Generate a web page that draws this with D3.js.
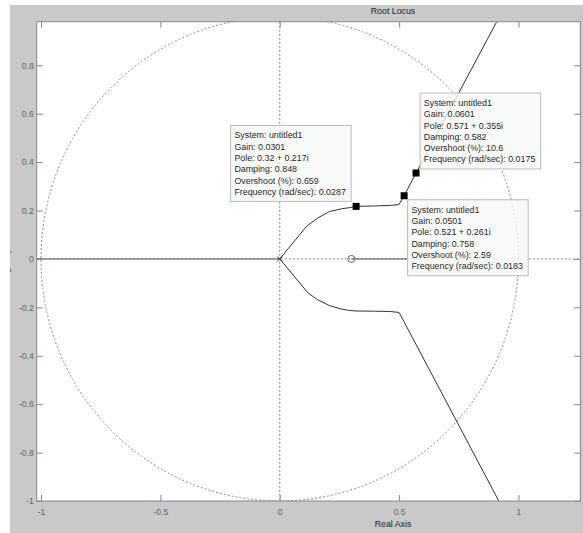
<!DOCTYPE html>
<html>
<head>
<meta charset="utf-8">
<script src="https://cdn.jsdelivr.net/npm/d3@7"></script>
<style>
  body { margin: 0; background: #fff; }
  text { font-family: "Liberation Sans", Arial, sans-serif; }
</style>
</head>
<body>
<script>
// tick values
var xTicks = [-1, -0.5, 0, 0.5, 1];
var yTicks = [-1, -0.8, -0.6, -0.4, -0.2, 0, 0.2, 0.4, 0.6, 0.8];

// root locus branches (real, imag)
var upperRe = [0, 0.04, 0.08, 0.114, 0.159, 0.209, 0.258, 0.293, 0.32, 0.4, 0.461, 0.499, 0.521, 0.571, 0.909];
var upperIm = [0, 0.048, 0.096, 0.136, 0.169, 0.196, 0.207, 0.212, 0.217, 0.219, 0.221, 0.224, 0.261, 0.355, 0.98];
var lowerRe = [0, 0.04, 0.08, 0.119, 0.159, 0.209, 0.258, 0.293, 0.32, 0.4, 0.461, 0.5, 0.923];
var lowerIm = [0, -0.047, -0.095, -0.141, -0.169, -0.193, -0.207, -0.213, -0.215, -0.216, -0.217, -0.221, -1.01];

// real-axis locus segments
var realSegLeft = [-1.02, 0];
var realSegRight = [0.3, 0.536];

// poles / zeros
var poleRe = [0];
var zeroRe = [0.3];

// data tips
var tipGain = ["0.0301", "0.0601", "0.0501"];
var tipRe = [0.32, 0.571, 0.521];
var tipIm = [0.217, 0.355, 0.261];
var tipDamping = ["0.848", "0.582", "0.758"];
var tipOvershoot = ["0.659", "10.6", "2.59"];
var tipFreq = ["0.0287", "0.0175", "0.0183"];

var W = 583, H = 533;
var box = {left: 36.7, top: 21.7, right: 580.3, bottom: 501};

var xScale = d3.scaleLinear().domain([-1.018, 1.259]).range([box.left, box.right]);
var yScale = d3.scaleLinear().domain([-1.0, 0.98]).range([box.bottom, box.top]);

var svg = d3.select("body").append("svg")
    .attr("width", W)
    .attr("height", H);

// figure background
svg.append("rect")
    .attr("x", 10).attr("y", 5)
    .attr("width", W - 10).attr("height", H - 5)
    .attr("fill", "#c9c9c9");

// y label, almost fully cut off at the left
svg.append("text")
    .attr("transform", "translate(9.3," + yScale(0) + ") rotate(-90)")
    .attr("text-anchor", "middle")
    .attr("font-size", "8.8px")
    .attr("fill", "#333")
    .text("Imaginary Axis");
svg.append("rect")
    .attr("x", 0).attr("y", 0)
    .attr("width", 10).attr("height", H)
    .attr("fill", "#fff");

// axes area
svg.append("rect")
    .attr("x", box.left).attr("y", box.top)
    .attr("width", box.right - box.left).attr("height", box.bottom - box.top)
    .attr("fill", "#fff");

svg.append("clipPath").attr("id", "plotclip")
  .append("rect")
    .attr("x", box.left).attr("y", box.top)
    .attr("width", box.right - box.left).attr("height", box.bottom - box.top);

var plot = svg.append("g").attr("clip-path", "url(#plotclip)");

// unit circle and grid lines
plot.append("ellipse")
    .attr("cx", xScale(0)).attr("cy", yScale(0))
    .attr("rx", xScale(1) - xScale(0)).attr("ry", yScale(0) - yScale(1))
    .attr("fill", "none")
    .attr("stroke", "#888")
    .attr("stroke-dasharray", "2,2");

plot.append("line")
    .attr("x1", xScale(0)).attr("x2", xScale(0))
    .attr("y1", box.top).attr("y2", box.bottom)
    .attr("stroke", "#888")
    .attr("stroke-dasharray", "2,2");

plot.append("line")
    .attr("x1", box.left).attr("x2", box.right)
    .attr("y1", yScale(0)).attr("y2", yScale(0))
    .attr("stroke", "#888")
    .attr("stroke-dasharray", "2,2");

// real-axis locus
[realSegLeft, realSegRight].forEach(function(seg) {
  plot.append("line")
      .attr("x1", xScale(seg[0])).attr("x2", xScale(seg[1]))
      .attr("y1", yScale(0)).attr("y2", yScale(0))
      .attr("stroke", "#555")
      .attr("stroke-width", 1);
});

var line = d3.line()
    .x(function(d) { return xScale(d[0]); })
    .y(function(d) { return yScale(d[1]); });

function branch(re, im) {
  return re.map(function(r, i) { return [r, im[i]]; });
}

plot.append("path")
    .attr("d", line(branch(upperRe, upperIm)))
    .attr("fill", "none")
    .attr("stroke", "#333")
    .attr("stroke-width", 1);

plot.append("path")
    .attr("d", line(branch(lowerRe, lowerIm)))
    .attr("fill", "none")
    .attr("stroke", "#333")
    .attr("stroke-width", 1);

// pole and zero marks
poleRe.forEach(function(p) {
  var px = xScale(p), py = yScale(0), s = 2.5;
  plot.append("path")
      .attr("d", "M" + (px - s) + "," + (py - s) + "L" + (px + s) + "," + (py + s) +
                 "M" + (px - s) + "," + (py + s) + "L" + (px + s) + "," + (py - s))
      .attr("stroke", "#333")
      .attr("fill", "none");
});

zeroRe.forEach(function(z) {
  plot.append("circle")
      .attr("cx", xScale(z)).attr("cy", yScale(0))
      .attr("r", 3.5)
      .attr("fill", "none")
      .attr("stroke", "#666");
});

// axes with ticks pointing inward
var fmt = function(d) { return String(d); };

svg.append("g")
    .attr("transform", "translate(0," + box.bottom + ")")
    .call(d3.axisBottom(xScale).tickValues(xTicks).tickFormat(fmt).tickSizeInner(-6).tickSizeOuter(0).tickPadding(8));
svg.append("g")
    .attr("transform", "translate(0," + box.top + ")")
    .call(d3.axisTop(xScale).tickValues(xTicks).tickFormat("").tickSizeInner(-6).tickSizeOuter(0));
svg.append("g")
    .attr("transform", "translate(" + box.left + ",0)")
    .call(d3.axisLeft(yScale).tickValues(yTicks).tickFormat(fmt).tickSizeInner(-6).tickSizeOuter(0).tickPadding(3));
svg.append("g")
    .attr("transform", "translate(" + box.right + ",0)")
    .call(d3.axisRight(yScale).tickValues(yTicks).tickFormat("").tickSizeInner(-6).tickSizeOuter(0));

svg.selectAll(".domain").remove();
svg.selectAll(".tick line").attr("stroke", "#888");
svg.selectAll(".tick text")
    .attr("font-size", "8.5px")
    .attr("font-family", "'Liberation Sans', Arial, sans-serif")
    .attr("fill", "#666");

svg.append("rect")
    .attr("x", box.left).attr("y", box.top)
    .attr("width", box.right - box.left).attr("height", box.bottom - box.top)
    .attr("fill", "none")
    .attr("stroke", "#888")
    .attr("stroke-width", 1);

// titles
svg.append("text")
    .attr("x", 393).attr("y", 14)
    .attr("text-anchor", "middle")
    .attr("font-size", "8.8px")
    .attr("fill", "#222")
    .text("Root Locus");

svg.append("text")
    .attr("x", 393).attr("y", 527)
    .attr("text-anchor", "middle")
    .attr("font-size", "8.8px")
    .attr("fill", "#222")
    .text("Real Axis");

// data tips: box corner offset from the marker
var tipAnchor = [["right", "bottom", -5, -5], ["left", "bottom", 4, -4], ["left", "top", 3.5, 4]];

tipRe.forEach(function(re, i) {
  var mx = xScale(re), my = yScale(tipIm[i]);
  var lines = [
    "System: untitled1",
    "Gain: " + tipGain[i],
    "Pole: " + re + " + " + tipIm[i] + "i",
    "Damping: " + tipDamping[i],
    "Overshoot (%): " + tipOvershoot[i],
    "Frequency (rad/sec): " + tipFreq[i]
  ];
  var g = svg.append("g");
  var tipBox = g.append("rect")
      .attr("fill", "#f7f9f5")
      .attr("fill-opacity", 0.82)
      .attr("stroke", "#bbb")
      .attr("stroke-width", 1);
  var txt = g.append("text")
      .attr("font-size", "8.9px")
      .attr("fill", "#2a2a2a");
  lines.forEach(function(l, k) {
    txt.append("tspan").attr("x", 0).attr("y", 13 + k * 11.3).text(l);
  });
  var bw = txt.node().getBBox().width + 9;
  var bh = 76;
  var a = tipAnchor[i];
  var bx = a[0] === "right" ? mx + a[2] - bw : mx + a[2];
  var by = a[1] === "bottom" ? my + a[3] - bh : my + a[3];
  tipBox.attr("x", bx).attr("y", by).attr("width", bw).attr("height", bh);
  txt.attr("transform", "translate(" + (bx + 3.8) + "," + by + ")");

  svg.append("rect")
      .attr("x", mx - 3.5).attr("y", my - 3.5)
      .attr("width", 7).attr("height", 7)
      .attr("fill", "#000");
});
</script>
</body>
</html>
